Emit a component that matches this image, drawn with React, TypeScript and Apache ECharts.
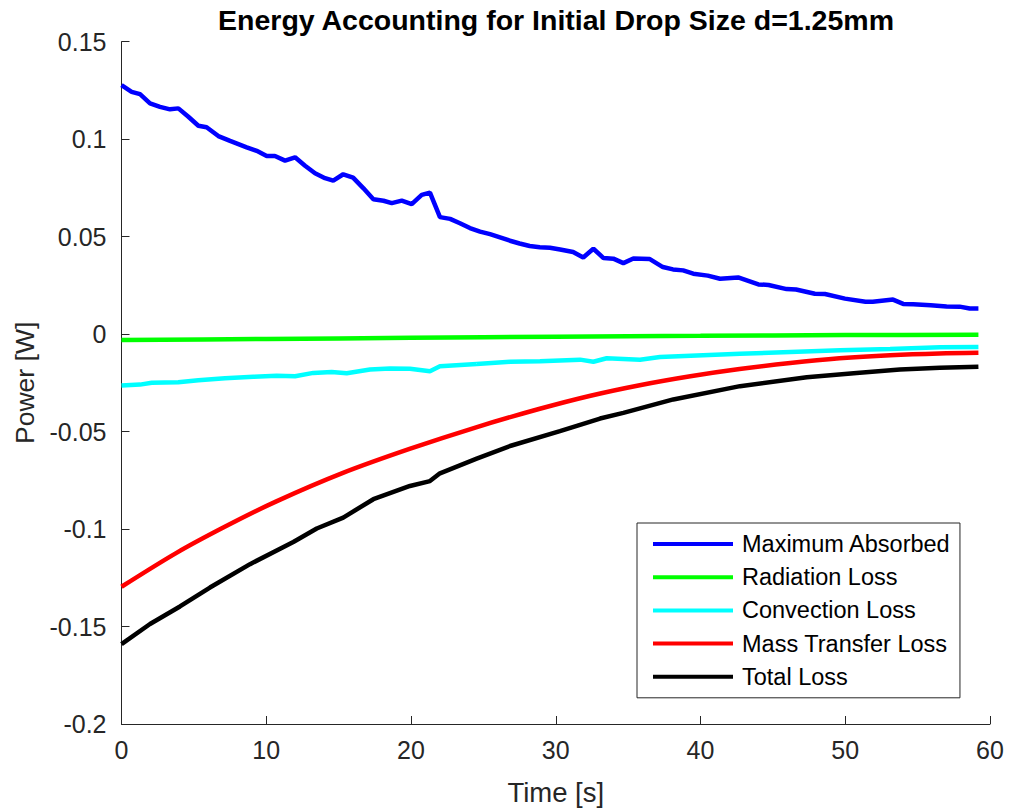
import React, { useEffect, useRef } from "react";
import * as echarts from "echarts";

const titleText = "Energy Accounting for Initial Drop Size d=1.25mm";
const xName = "Time [s]";
const yName = "Power [W]";
const seriesNames = ["Maximum Absorbed", "Radiation Loss", "Convection Loss", "Mass Transfer Loss", "Total Loss"];
const seriesColors = ["#0000FF", "#00FF00", "#00FFFF", "#FF0000", "#000000"];

const absorbedT = [0, 0.7, 1.28, 1.97, 2.66, 3.35, 3.93, 4.62, 5.31, 5.88, 6.69, 7.5, 8.65, 9.34, 10.03, 10.6, 11.3, 11.99, 12.68, 13.37, 14.06, 14.63, 15.32, 16.0, 16.7, 17.4, 18.1, 18.67, 19.36, 20.05, 20.74, 21.31, 22.0, 22.7, 23.38, 24.07, 24.77, 25.46, 26.15, 26.84, 27.5, 28.2, 28.9, 29.6, 30.3, 31.2, 31.9, 32.6, 33.3, 33.98, 34.67, 35.36, 36.5, 37.4, 38.1, 38.8, 39.5, 40.5, 41.35, 42.6, 44.0, 44.7, 45.95, 46.6, 47.9, 48.6, 49.98, 51.4, 51.9, 53.3, 54.0, 54.7, 55.9, 57.0, 57.9, 58.6, 59.2];
const absorbedP = [0.1277, 0.1243, 0.1231, 0.1184, 0.1166, 0.1153, 0.1158, 0.1115, 0.1069, 0.1061, 0.1016, 0.0991, 0.0958, 0.094, 0.0914, 0.0914, 0.089, 0.0907, 0.0864, 0.0825, 0.08, 0.0787, 0.082, 0.0803, 0.0749, 0.0692, 0.0684, 0.0672, 0.0685, 0.0667, 0.0714, 0.0726, 0.06, 0.0591, 0.0569, 0.0544, 0.0526, 0.0513, 0.0496, 0.0479, 0.0465, 0.0452, 0.0446, 0.0443, 0.0434, 0.0421, 0.0393, 0.0438, 0.039, 0.0387, 0.0364, 0.0388, 0.0385, 0.0344, 0.0332, 0.0327, 0.031, 0.03, 0.0284, 0.0291, 0.0255, 0.0252, 0.0231, 0.0229, 0.0207, 0.0206, 0.0182, 0.0166, 0.0166, 0.0177, 0.0155, 0.0153, 0.0148, 0.0142, 0.0141, 0.0131, 0.0131];

const radiationT = [0, 10, 20, 30, 40, 50, 59.2];
const radiationP = [-0.003, -0.0025, -0.0019, -0.0013, -0.0009, -0.0005, -0.0003];

const convectionT = [0, 1.28, 2.09, 3.92, 5.31, 7.15, 9.11, 10.72, 11.99, 13.25, 14.52, 15.56, 17.17, 18.55, 19.93, 21.31, 22.0, 24.54, 26.84, 28.91, 31.68, 32.6, 33.52, 35.82, 37.2, 42.73, 49.64, 53.1, 56.54, 59.2];
const convectionP = [-0.0264, -0.0259, -0.025, -0.0247, -0.0237, -0.0226, -0.0219, -0.0214, -0.0216, -0.0199, -0.0194, -0.0201, -0.0182, -0.0177, -0.0178, -0.019, -0.0165, -0.0153, -0.0142, -0.0139, -0.0131, -0.0142, -0.0124, -0.0131, -0.0117, -0.0101, -0.0083, -0.0076, -0.0068, -0.0066];

const massT = [0, 3.8, 7.3, 10.7, 15.3, 19.9, 24.5, 28.9, 32.4, 35.8, 39.3, 42.7, 46.2, 49.6, 53.1, 56.5, 59.2];
const massP = [-0.1296, -0.1122, -0.0982, -0.0858, -0.0712, -0.0589, -0.0478, -0.0383, -0.0316, -0.0262, -0.0216, -0.0179, -0.0148, -0.0124, -0.0108, -0.0099, -0.0096];

const totalT = [0, 1.97, 4.04, 6.11, 8.88, 11.87, 13.49, 15.32, 17.4, 19.93, 21.31, 22.0, 24.54, 26.84, 30.29, 31.9, 33.06, 34.67, 38.12, 42.73, 47.34, 50.79, 53.78, 56.54, 59.2];
const totalP = [-0.159, -0.1487, -0.1397, -0.13, -0.118, -0.1066, -0.0997, -0.0941, -0.0847, -0.0779, -0.0754, -0.0714, -0.0639, -0.0574, -0.0498, -0.046, -0.0433, -0.0404, -0.0335, -0.0267, -0.0221, -0.0199, -0.0182, -0.0173, -0.0168];

const xTicks = { min: 0, max: 60, interval: 10 };
const yTicks = { min: -0.2, max: 0.15, interval: 0.05 };

const seriesData = [
  [absorbedT, absorbedP, false],
  [radiationT, radiationP, true],
  [convectionT, convectionP, false],
  [massT, massP, true],
  [totalT, totalP, false],
] as const;

const FONT = "'Liberation Sans', Arial, Helvetica, sans-serif";
const AXIS_COLOR = "#262626";

export default function App() {
  const ref = useRef<HTMLDivElement>(null);
  useEffect(() => {
    if (!ref.current) return;
    const chart = echarts.init(ref.current, undefined, { renderer: "svg" });
    const option: any = {
      animation: false,
      backgroundColor: "#ffffff",
      graphic: [
        {
          type: "text",
          x: 556,
          y: 20,
          style: {
            text: titleText,
            font: `bold 28.5px ${FONT}`,
            fill: "#000000",
            textAlign: "center",
            textVerticalAlign: "middle",
          },
        },
      ],
      grid: { left: 121.5, right: 19, top: 41.7, bottom: 86, containLabel: false },
      xAxis: {
        type: "value",
        min: xTicks.min,
        max: xTicks.max,
        interval: xTicks.interval,
        name: xName,
        nameLocation: "middle",
        nameGap: 54,
        nameTextStyle: { fontSize: 27.5, color: AXIS_COLOR, fontFamily: FONT },
        axisLine: { show: true, onZero: false, lineStyle: { color: AXIS_COLOR, width: 1 } },
        axisTick: { show: true, inside: true, length: 8, lineStyle: { color: AXIS_COLOR } },
        axisLabel: { fontSize: 25, color: AXIS_COLOR, fontFamily: FONT, margin: 13 },
        splitLine: { show: false },
      },
      yAxis: {
        type: "value",
        min: yTicks.min,
        max: yTicks.max,
        interval: yTicks.interval,
        name: yName,
        nameLocation: "middle",
        nameGap: 80,
        nameTextStyle: { fontSize: 26.5, color: AXIS_COLOR, fontFamily: FONT },
        axisLine: { show: true, onZero: false, lineStyle: { color: AXIS_COLOR, width: 1 } },
        axisTick: { show: true, inside: true, length: 8, lineStyle: { color: AXIS_COLOR } },
        axisLabel: {
          fontSize: 25,
          color: AXIS_COLOR,
          fontFamily: FONT,
          margin: 15,
          formatter: (v: number) => String(Math.round(v * 100) / 100),
        },
        splitLine: { show: false },
      },
      legend: {
        orient: "vertical",
        left: 637,
        top: 523,
        padding: [9, 9, 9, 16],
        itemGap: 9.2,
        itemWidth: 80,
        itemHeight: 4,
        icon: "rect",
        borderColor: AXIS_COLOR,
        borderWidth: 1,
        backgroundColor: "#ffffff",
        textStyle: { fontSize: 23.5, color: "#000000", fontFamily: FONT, lineHeight: 24, padding: [0, 0, 0, 4] },
        data: seriesNames,
      },
      series: seriesData.map(([t, p, smooth], i) => ({
        name: seriesNames[i],
        type: "line",
        data: t.map((x, j) => [x, p[j]]),
        showSymbol: false,
        symbol: "none",
        smooth: smooth ? 0.3 : false,
        color: seriesColors[i],
        lineStyle: { color: seriesColors[i], width: 4.5 },
        itemStyle: { color: seriesColors[i] },
        z: 2 + i,
      })),
    };
    chart.setOption(option);
    return () => chart.dispose();
  }, []);
  return (
    <div
      ref={ref}
      style={{ position: "fixed", left: 0, top: 0, width: 1009, height: 811, background: "#fff" }}
    />
  );
}
